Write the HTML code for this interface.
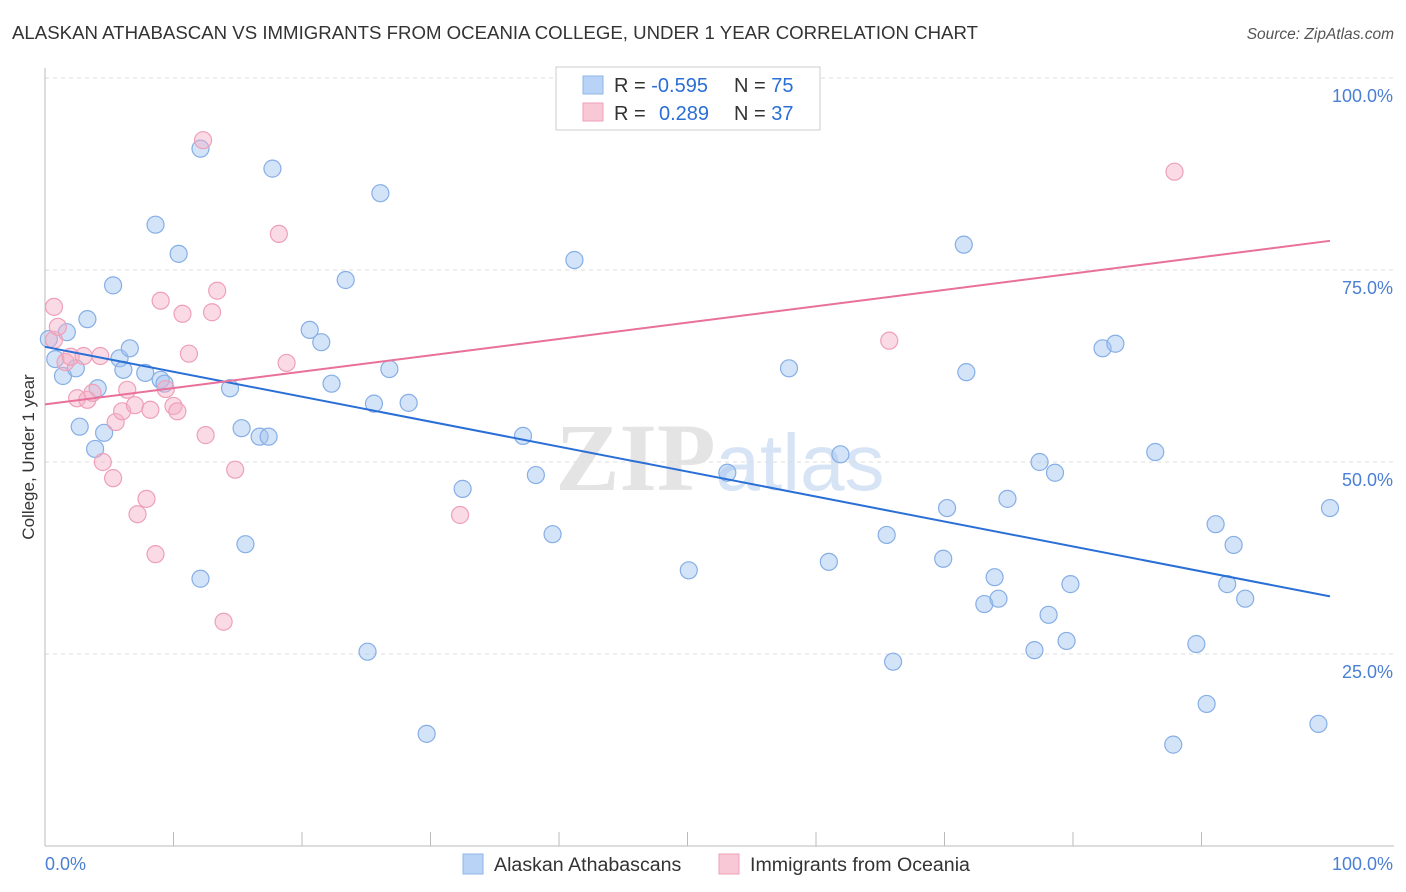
<!DOCTYPE html>
<html><head><meta charset="utf-8"><style>
body{margin:0;background:#fff;font-family:"Liberation Sans",sans-serif;}
#c{position:relative;width:1406px;height:892px;overflow:hidden}
</style></head><body>
<div id="c">
<svg id="s" width="1406" height="892" xmlns="http://www.w3.org/2000/svg">
<text x="12" y="39" font-size="18.5" fill="#333" textLength="966" lengthAdjust="spacingAndGlyphs">ALASKAN ATHABASCAN VS IMMIGRANTS FROM OCEANIA COLLEGE, UNDER 1 YEAR CORRELATION CHART</text>
<text x="1394" y="39" font-size="15.5" fill="#555" font-style="italic" text-anchor="end">Source: ZipAtlas.com</text>
<text x="720" y="490" font-size="96" fill="#e4e4e4" text-anchor="middle" font-family="Liberation Serif,serif" font-weight="bold">ZIP<tspan fill="#d6e4f5" font-family="Liberation Sans,sans-serif" font-weight="normal" font-size="80">atlas</tspan></text>
<text transform="translate(34,457) rotate(-90)" font-size="17" fill="#333" text-anchor="middle">College, Under 1 year</text>
<g id="grid"></g><g id="marks"></g>
<g>
<rect x="556" y="67" width="264" height="63" fill="#fff" stroke="#ccc"/>
<rect x="583" y="76" width="20" height="18" fill="#b8d3f5" stroke="#8fb4e8"/>
<rect x="583" y="103" width="20" height="18" fill="#f9c8d6" stroke="#f0a0b8"/>
<text x="614" y="92" font-size="20" fill="#333">R = <tspan fill="#2a6fd6">-0.595</tspan><tspan x="734">N = </tspan><tspan fill="#2a6fd6">75</tspan></text>
<text x="614" y="120" font-size="20" fill="#333">R = <tspan fill="#2a6fd6" x="659">0.289</tspan><tspan x="734">N = </tspan><tspan fill="#2a6fd6">37</tspan></text>
</g>
<g>
<rect x="463" y="854" width="20" height="20" fill="#b8d3f5" stroke="#8fb4e8"/>
<text x="494" y="871" font-size="19.6" fill="#333">Alaskan Athabascans</text>
<rect x="719" y="854" width="20" height="20" fill="#f9c8d6" stroke="#f0a0b8"/>
<text x="750" y="871" font-size="19.6" fill="#333">Immigrants from Oceania</text>
</g>
</svg></div>
<script>
const blueX=[0.3,0.8,1.7,1.4,2.4,2.7,3.3,3.9,4.1,4.6,5.3,5.8,6.1,6.6,7.8,8.6,9.0,9.3,10.4,12.1,12.1,14.4,15.3,15.6,16.7,17.4,17.7,20.6,21.5,22.3,23.4,25.1,25.6,26.1,26.8,28.3,29.7,32.5,37.2,38.2,39.5,41.2,50.1,53.1,57.9,61.0,61.9,65.5,66.0,69.9,70.2,71.5,71.7,73.1,73.9,74.2,74.9,77.0,77.4,78.1,78.6,79.5,79.8,82.3,83.3,86.4,87.8,89.6,90.4,91.1,92.0,92.5,93.4,99.1,100];
const blueY=[66.0,63.4,66.9,61.2,62.2,54.6,68.6,51.7,59.6,53.8,73.0,63.5,62.0,64.8,61.6,80.9,60.7,60.2,77.1,90.8,34.8,59.6,54.4,39.3,53.3,53.3,88.2,67.2,65.6,60.2,73.7,25.3,57.6,85.0,62.1,57.7,14.6,46.5,53.4,48.3,40.6,76.3,35.9,48.6,62.2,37.0,51.0,40.5,24.0,37.4,44.0,78.3,61.7,31.5,35.0,32.2,45.2,25.5,50.0,30.1,48.6,26.7,34.1,64.8,65.4,51.3,13.2,26.3,18.5,41.9,34.1,39.2,32.2,15.9,44.0];
const pinkX=[0.7,0.7,1.0,1.6,2.0,2.5,3.0,3.3,3.7,4.3,4.5,5.3,5.5,6.0,6.4,7.0,7.2,7.9,8.2,8.6,9.0,9.4,10.0,10.3,10.7,11.2,12.3,12.5,13.0,13.4,13.9,14.8,18.2,18.8,32.3,65.7,87.9];
const pinkY=[70.2,65.9,67.6,63.0,63.7,58.3,63.8,58.1,59.0,63.8,50.0,47.9,55.2,56.6,59.4,57.4,43.2,45.2,56.8,38.0,71.0,59.5,57.3,56.6,69.3,64.1,91.9,53.5,69.5,72.3,29.2,49.0,79.7,62.9,43.1,65.8,87.8];
const blueTrend=[65.0,32.5];
const pinkTrend=[57.5,78.8];
const yTicks=[25,50,75,100];
const yTickLabels=["25.0%","50.0%","75.0%","100.0%"];
const NS="http://www.w3.org/2000/svg";
const X=v=>45+v*12.85, Y=v=>846-v*7.68;
function mk(t,a,p){const e=document.createElementNS(NS,t);for(const k in a)e.setAttribute(k,a[k]);p.appendChild(e);return e;}
const g=document.getElementById('grid'),m=document.getElementById('marks');
yTicks.forEach((t,i)=>{
 const l=mk('line',{x1:45,x2:1394,y1:Y(t),y2:Y(t),stroke:'#ddd','stroke-dasharray':'4,4'},g);
 
 
 const tx=mk('text',{x:1393,y:Y(t)+24,'font-size':18,fill:'#4a7fd4','text-anchor':'end'},g);tx.textContent=yTickLabels[i];
 
 
});
const ax=mk('line',{x1:45,x2:1394,y1:846,y2:846,stroke:'#bbb'},g);


const ay=mk('line',{x1:45,x2:45,y1:68,y2:846,stroke:'#bbb'},g);


for(let i=0;i<=10;i++){const t=mk('line',{x1:X(i*10),x2:X(i*10),y1:846,y2:i==0||i==10?846:832,stroke:'#bbb'},g);
 
 }
const x0=mk('text',{x:45,y:870,'font-size':18,fill:'#4a7fd4'},g);x0.textContent='0.0%';


const x1=mk('text',{x:1393,y:870,'font-size':18,fill:'#4a7fd4','text-anchor':'end'},g);x1.textContent='100.0%';


function pts(xs,ys,fill,st,name){xs.forEach((x,i)=>{const c=mk('circle',{cx:X(x),cy:Y(ys[i]),r:8.5,fill:fill,stroke:st,'stroke-width':1.2},m);
 
 });}
pts(blueX,blueY,'rgba(160,195,240,0.45)','#86aee6','point-alaskan');
pts(pinkX,pinkY,'rgba(245,175,198,0.45)','#eea0b8','point-oceania');
const bl=mk('line',{x1:X(0),y1:Y(blueTrend[0]),x2:X(100),y2:Y(blueTrend[1]),stroke:'#2a6fd6','stroke-width':2},m);


const pl=mk('line',{x1:X(0),y1:Y(pinkTrend[0]),x2:X(100),y2:Y(pinkTrend[1]),stroke:'#e8709a','stroke-width':2},m);


</script>
</body></html>
